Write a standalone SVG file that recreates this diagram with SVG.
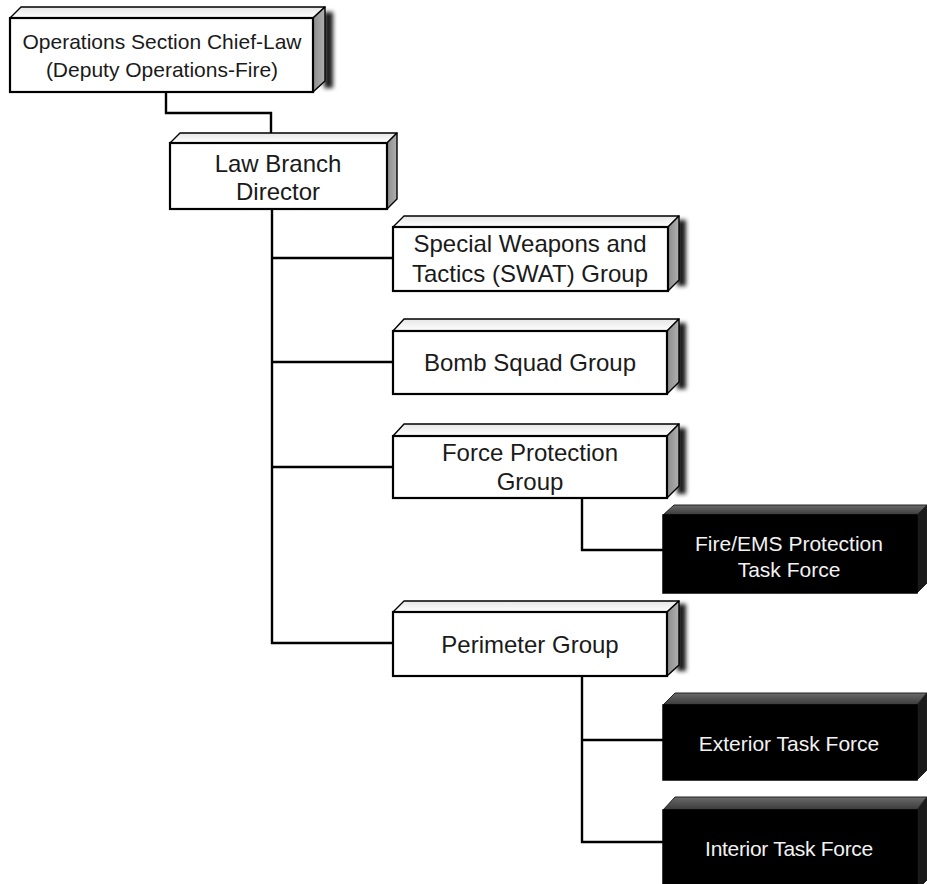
<svg xmlns="http://www.w3.org/2000/svg" width="927" height="884" viewBox="0 0 927 884">
<defs>
<linearGradient id="topW" x1="0" y1="0" x2="0" y2="1"><stop offset="0" stop-color="#e6e6e6"/><stop offset="1" stop-color="#ffffff"/></linearGradient>
<linearGradient id="sideW" x1="0" y1="0" x2="1" y2="0"><stop offset="0" stop-color="#8c8c8c"/><stop offset="1" stop-color="#b0b0b0"/></linearGradient>
<linearGradient id="topB" x1="0" y1="0" x2="0" y2="1"><stop offset="0" stop-color="#6a6a6a"/><stop offset="1" stop-color="#3a3a3a"/></linearGradient>
<filter id="sh" x="-1" y="-0.2" width="3" height="1.4"><feGaussianBlur stdDeviation="2.2"/></filter>
</defs>
<style>
.fw{fill:#fff;stroke:#000;stroke-width:2.2}
.tw{fill:url(#topW);stroke:#000;stroke-width:1.4;stroke-linejoin:round}
.sw{fill:url(#sideW);stroke:#000;stroke-width:1.4;stroke-linejoin:round}
.fb{fill:#000;stroke:#000;stroke-width:1.5}
.tb{fill:url(#topB);stroke:#222;stroke-width:1;stroke-linejoin:round}
.sb{fill:#1a1a1a;stroke:#222;stroke-width:1;stroke-linejoin:round}
.shd{fill:#1a1a1a;filter:url(#sh)}
.t{font-family:"Liberation Sans",Arial,sans-serif;fill:#1a1a1a;text-anchor:middle}
.tl{font-family:"Liberation Sans",Arial,sans-serif;fill:#f2f2f2;text-anchor:middle;font-size:21px}
.c{fill:none;stroke:#000;stroke-width:2.4;stroke-linejoin:miter}
</style>
<g id="connectors">
<path class="c" d="M166,92 V113 H271 V133"/>
<path class="c" d="M272,209 V643 H393"/>
<path class="c" d="M272,258 H393"/>
<path class="c" d="M272,362 H393"/>
<path class="c" d="M272,467 H393"/>
<path class="c" d="M582,498 V550 H663"/>
<path class="c" d="M582,676 V842 H663"/>
<path class="c" d="M582,740 H663"/>
</g>
<g id="ops">
<rect class="shd" x="324" y="12" width="9" height="76"/>
<polygon class="tw" points="10,18 21,7 325,7 313,18"/>
<polygon class="sw" points="313,18 325,7 325,81 313,92"/>
<rect class="fw" x="10" y="18" width="303" height="74"/>
<text class="t" font-size="21" x="162" y="49">Operations Section Chief-Law</text>
<text class="t" font-size="21" x="162" y="77">(Deputy Operations-Fire)</text>
</g>
<g id="law">
<polygon class="tw" points="170,143 180,133 397,133 387,143"/>
<polygon class="sw" points="387,143 397,133 397,199 387,209"/>
<rect class="fw" x="170" y="143" width="217" height="66"/>
<text class="t" font-size="24" x="278" y="172">Law Branch</text>
<text class="t" font-size="24" x="278" y="200">Director</text>
</g>
<g id="swat">
<rect class="shd" x="677" y="220" width="9" height="66"/>
<polygon class="tw" points="393,227 404,216 679,216 668,227"/>
<polygon class="sw" points="668,227 679,216 679,280 668,291"/>
<rect class="fw" x="393" y="227" width="275" height="64"/>
<text class="t" font-size="24" x="530" y="252">Special Weapons and</text>
<text class="t" font-size="24" x="530" y="282">Tactics (SWAT) Group</text>
</g>
<g id="bomb">
<rect class="shd" x="677" y="323" width="9" height="66"/>
<polygon class="tw" points="393,331 404,319 679,319 667,331"/>
<polygon class="sw" points="667,331 679,319 679,382 667,394"/>
<rect class="fw" x="393" y="331" width="274" height="63"/>
<text class="t" font-size="24" x="530" y="371">Bomb Squad Group</text>
</g>
<g id="force">
<rect class="shd" x="677" y="428" width="9" height="66"/>
<polygon class="tw" points="393,436 404,424 679,424 667,436"/>
<polygon class="sw" points="667,436 679,424 679,486 667,498"/>
<rect class="fw" x="393" y="436" width="274" height="62"/>
<text class="t" font-size="24" x="530" y="461">Force Protection</text>
<text class="t" font-size="24" x="530" y="490">Group</text>
</g>
<g id="perimeter">
<rect class="shd" x="677" y="604" width="9" height="67"/>
<polygon class="tw" points="393,612 404,601 679,601 667,612"/>
<polygon class="sw" points="667,612 679,601 679,665 667,676"/>
<rect class="fw" x="393" y="612" width="274" height="64"/>
<text class="t" font-size="24" x="530" y="653">Perimeter Group</text>
</g>
<g id="fireems">
<polygon class="tb" points="663,515 674,505 927,505 917,515"/>
<polygon class="sb" points="917,515 927,505 927,583 917,593"/>
<rect class="fb" x="663" y="515" width="254" height="78"/>
<text class="tl" x="789" y="551">Fire/EMS Protection</text>
<text class="tl" x="789" y="577">Task Force</text>
</g>
<g id="exterior">
<polygon class="tb" points="663,705 675,693 927,693 917,705"/>
<polygon class="sb" points="917,705 927,693 927,770 917,780"/>
<rect class="fb" x="663" y="705" width="254" height="75"/>
<text class="tl" x="789" y="751">Exterior Task Force</text>
</g>
<g id="interior">
<polygon class="tb" points="663,810 675,797 927,797 917,810"/>
<polygon class="sb" points="917,810 927,797 927,880 917,890"/>
<rect class="fb" x="663" y="810" width="254" height="80"/>
<text class="tl" x="789" y="856" letter-spacing="-0.3">Interior Task Force</text>
</g>
</svg>
